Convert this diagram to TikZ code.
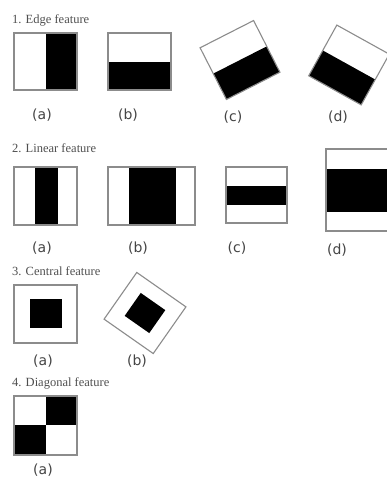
\documentclass[tikz,border=0pt]{standalone}
\usepackage{fontspec}
\setmainfont{Liberation Serif}
\newfontfamily\lblfont{DejaVu Sans}
\usetikzlibrary{positioning}
\definecolor{frame}{HTML}{8C8C8C}
\definecolor{ttlgray}{HTML}{4F4F4F}
\definecolor{lblgray}{HTML}{454545}
\tikzset{
  haar/.style={draw=frame,line width=1.1pt},
  dark/.style={fill=black},
  ttl/.style={font=\fontsize{12.5}{14}\selectfont,text=ttlgray,anchor=west,inner sep=0pt},
  lbl/.style={font=\lblfont\fontsize{14}{16}\selectfont,text=lblgray,inner sep=0pt}
}
\begin{document}
\begin{tikzpicture}[x=1pt,y=-1pt]
\useasboundingbox (0,0) rectangle (387,478);
\fill[white] (0,0) rectangle (387,478);
\clip (0,0) rectangle (387,478);
\node[ttl] (t1) at (12,20) {1. Edge feature};
\node[ttl] (t2) at (12,148) {2. Linear feature};
\node[ttl] (t3) at (12,271) {3. Central feature};
\node[ttl] (t4) at (12,383) {4. Diagonal feature};
\fill[dark] (46,33) rectangle (77,90);
\draw[haar] (14,33) rectangle (77,90);
\fill[dark] (108,62) rectangle (171,90);
\draw[haar] (108,33) rectangle (171,90);
\begin{scope}[shift={(240,60)},rotate=27]
  \fill[dark] (-30,0) rectangle (30,29);
  \draw[haar] (-30,-29) rectangle (30,29);
\end{scope}
\begin{scope}[shift={(349,65)},rotate=-29]
  \fill[dark] (-30,0) rectangle (30,29);
  \draw[haar] (-30,-29) rectangle (30,29);
\end{scope}
\fill[dark] (35,167) rectangle (58,225);
\draw[haar] (14,167) rectangle (77,225);
\fill[dark] (129,167) rectangle (176,225);
\draw[haar] (108,167) rectangle (195,225);
\fill[dark] (226,186) rectangle (287,205);
\draw[haar] (226,167) rectangle (287,223);
\fill[dark] (326,169) rectangle (389,212);
\draw[haar] (326,149) rectangle (389,231);
\fill[dark] (30,299) rectangle (62,328);
\draw[haar] (14,285) rectangle (77,343);
\begin{scope}[shift={(145,313)},rotate=-35]
  \fill[dark] (-15,-14) rectangle (15,14);
  \draw[haar] (-30,-28.5) rectangle (30,28.5);
\end{scope}
\fill[dark] (46,396) rectangle (77,425);
\fill[dark] (14,425) rectangle (46,455);
\draw[haar] (14,396) rectangle (77,455);
\foreach \n/\x/\y/\t in {a1/42/115/a,b1/128/115/b,c1/233/117/c,d1/338/117/d,
  a2/42/248/a,b2/138/248/b,c2/237/248/c,d2/337/250/d,
  a3/43/361/a,b3/137/361/b,a4/43/470/a}
  \node[lbl] (l\n) at (\x,\y) {(\t)};
\end{tikzpicture}
\end{document}
